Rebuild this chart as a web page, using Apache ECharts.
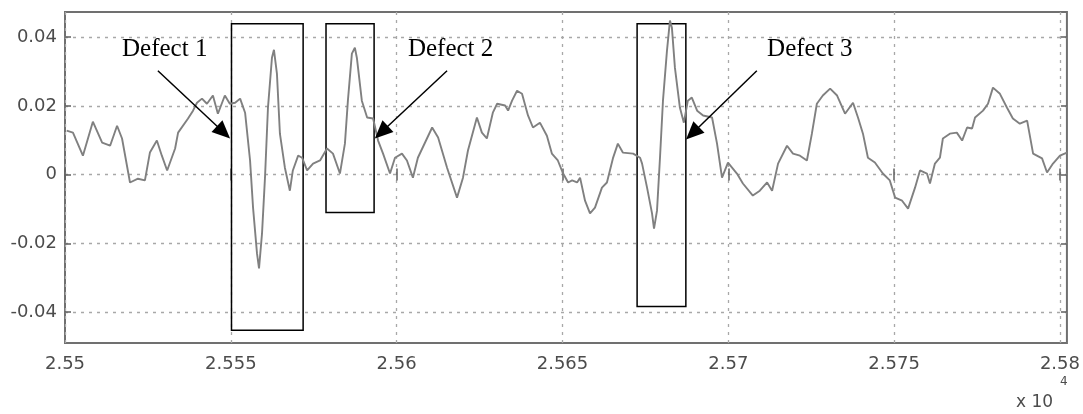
<!DOCTYPE html>
<html>
<head>
<meta charset="utf-8">
<script src="https://cdn.jsdelivr.net/npm/echarts@6/dist/echarts.min.js"></script>
<style>
  html, body { margin: 0; padding: 0; background: #fff; }
  #chart { width: 1083px; height: 414px; }
</style>
</head>
<body>
<div id="chart"></div>
<script>
// Sample position (in units of 1e-4 of the axis label value) and signal amplitude
const sampleX = [
  25500.5, 25502.4, 25505.4, 25508.4, 25511.2, 25513.6, 25515.7, 25517.2, 25519.6, 25522.0,
  25524.1, 25525.6, 25527.7, 25529.2, 25530.8, 25533.2, 25534.1, 25537.1, 25538.6, 25539.8,
  25541.3, 25542.8, 25544.6, 25546.1, 25548.2, 25549.7, 25551.3, 25552.8, 25554.3, 25555.8,
  25556.7, 25557.9, 25558.5, 25559.4, 25560.3, 25561.2, 25562.4, 25563.0, 25563.9, 25564.8,
  25566.3, 25567.8, 25568.7, 25570.3, 25571.5, 25573.0, 25574.8, 25576.9, 25579.0, 25580.8,
  25582.9, 25584.4, 25585.3, 25586.5, 25587.4, 25588.0, 25589.5, 25591.1, 25592.9, 25594.4,
  25595.9, 25598.0, 25599.5, 25601.6, 25603.1, 25604.9, 25606.4, 25610.7, 25612.5, 25615.2,
  25618.2, 25620.0, 25621.5, 25624.2, 25625.7, 25627.2, 25629.0, 25630.3, 25632.7, 25633.6,
  25634.8, 25636.3, 25637.8, 25639.6, 25641.1, 25643.2, 25645.3, 25646.8, 25648.6, 25650.2,
  25651.7, 25652.9, 25654.4, 25655.3, 25656.8, 25658.3, 25659.8, 25661.9, 25663.4, 25665.2,
  25666.7, 25668.2, 25671.3, 25673.4, 25674.0, 25675.5, 25677.0, 25677.6, 25678.5, 25679.4,
  25680.3, 25681.5, 25682.4, 25683.0, 25683.9, 25685.4, 25686.6, 25687.8, 25689.0, 25690.6,
  25692.4, 25695.1, 25696.6, 25698.1, 25699.9, 25702.6, 25704.4, 25707.4, 25709.5, 25711.7,
  25713.2, 25715.0, 25717.7, 25719.5, 25721.6, 25723.7, 25725.2, 25726.7, 25728.5, 25730.7,
  25732.8, 25735.2, 25737.6, 25739.1, 25740.6, 25742.1, 25744.2, 25746.6, 25748.7, 25750.3,
  25752.4, 25754.2, 25756.3, 25757.8, 25759.9, 25760.8, 25762.3, 25763.8, 25764.7, 25766.8,
  25768.9, 25770.5, 25772.0, 25773.5, 25774.4, 25776.8, 25778.3, 25779.8, 25781.9, 25784.0,
  25785.8, 25787.9, 25790.1, 25791.9, 25794.6, 25796.1, 25797.9, 25800.0, 25802.1
];
const sampleY = [
  0.0128, 0.0122, 0.0055, 0.0154, 0.0093, 0.0084, 0.0142, 0.0105, -0.0023, -0.0012,
  -0.0017, 0.0064, 0.0099, 0.0055, 0.0012, 0.0076, 0.0122, 0.0163, 0.0186, 0.0209,
  0.0221, 0.0206, 0.0230, 0.0177, 0.0230, 0.0206, 0.0209, 0.0221, 0.0180, 0.0041,
  -0.0096, -0.0230, -0.0273, -0.0172, -0.0009, 0.0195, 0.0340, 0.0363, 0.0294, 0.0119,
  0.0020, -0.0047, 0.0012, 0.0055, 0.0049, 0.0012, 0.0032, 0.0041, 0.0076, 0.0061,
  0.0003, 0.0090, 0.0215, 0.0352, 0.0369, 0.0340, 0.0215, 0.0166, 0.0163, 0.0099,
  0.0061, 0.0003, 0.0049, 0.0061, 0.0041, -0.0009, 0.0049, 0.0137, 0.0108, 0.0020,
  -0.0067, -0.0009, 0.0070, 0.0166, 0.0122, 0.0105, 0.0180, 0.0206, 0.0201, 0.0186,
  0.0215, 0.0244, 0.0235, 0.0172, 0.0137, 0.0151, 0.0113, 0.0061, 0.0041, 0.0003,
  -0.0023, -0.0017, -0.0023, -0.0009, -0.0076, -0.0113, -0.0096, -0.0038, -0.0023, 0.0047,
  0.0090, 0.0064, 0.0061, 0.0049, 0.0032, -0.0038, -0.0113, -0.0157, -0.0105, 0.0049,
  0.0215, 0.0360, 0.0448, 0.0427, 0.0311, 0.0195, 0.0151, 0.0215, 0.0224, 0.0186,
  0.0172, 0.0166, 0.0090, -0.0009, 0.0035, 0.0003, -0.0026, -0.0061, -0.0047, -0.0023,
  -0.0047, 0.0032, 0.0084, 0.0061, 0.0055, 0.0041, 0.0119, 0.0206, 0.0230, 0.0250,
  0.0230, 0.0177, 0.0209, 0.0166, 0.0119, 0.0049, 0.0035, 0.0003, -0.0017, -0.0067,
  -0.0076, -0.0099, -0.0038, 0.0012, 0.0003, -0.0026, 0.0032, 0.0049, 0.0105, 0.0119,
  0.0122, 0.0099, 0.0137, 0.0134, 0.0166, 0.0186, 0.0206, 0.0253, 0.0235, 0.0195,
  0.0163, 0.0148, 0.0157, 0.0061, 0.0047, 0.0006, 0.0032, 0.0055, 0.0064
];

// Axis ranges and tick values
const xRange = [25500, 25802.1];
const yRange = [-0.049, 0.0473];
const xTicks = [25500, 25550, 25600, 25650, 25700, 25750, 25800];
const yTicks = [-0.04, -0.02, 0, 0.02, 0.04];

// Defect annotations: labels, enclosing boxes [x0, x1, yLow, yHigh], arrows [from, to]
const defectNames = ['Defect 1', 'Defect 2', 'Defect 3'];
const defectLabelAt = [[25517.2, 0.0363], [25603.4, 0.0363], [25711.7, 0.0363]];
const defectBoxes = [
  [25550.2, 25571.8, -0.0453, 0.0439],
  [25578.7, 25593.2, -0.0110, 0.0439],
  [25672.5, 25687.2, -0.0384, 0.0439]
];
const defectArrows = [
  [[25528.0, 0.0302], [25547.8, 0.0123]],
  [[25615.2, 0.0302], [25595.4, 0.0123]],
  [[25708.6, 0.0302], [25689.2, 0.0120]]
];

const signal = sampleX.map((x, i) => [x, sampleY[i]]);

const labelFont = { fontFamily: 'DejaVu Sans', fontSize: 18, color: '#4c4c4c' };
const gridLine = { show: true, lineStyle: { color: '#a8a8a8', width: 1.3, type: [3, 5] } };

const fmtX = v => String(Number((v / 10000).toFixed(4)));
const fmtY = v => String(Number(v.toFixed(3)));

const chart = echarts.init(document.getElementById('chart'), null, { renderer: 'canvas' });

chart.setOption({
  animation: false,
  backgroundColor: '#ffffff',
  grid: {
    left: 65, right: 16, top: 12, bottom: 71,
    show: true, borderColor: '#707070', borderWidth: 2, backgroundColor: '#ffffff'
  },
  xAxis: [
    {
      type: 'value', min: xRange[0], max: xRange[1], position: 'bottom',
      axisLine: { show: false },
      axisTick: { show: true, inside: true, length: 6, customValues: xTicks,
                  lineStyle: { color: '#606060', width: 1.5 } },
      axisLabel: { show: true, customValues: xTicks, margin: 12, formatter: fmtX, ...labelFont },
      splitLine: gridLine
    },
    {
      type: 'value', min: xRange[0], max: xRange[1], position: 'top',
      axisLine: { show: false },
      axisTick: { show: true, inside: true, length: 6, customValues: xTicks,
                  lineStyle: { color: '#606060', width: 1.5 } },
      axisLabel: { show: false },
      splitLine: { show: false }
    }
  ],
  yAxis: [
    {
      type: 'value', min: yRange[0], max: yRange[1], position: 'left',
      axisLine: { show: false },
      axisTick: { show: true, inside: true, length: 6, customValues: yTicks,
                  lineStyle: { color: '#606060', width: 1.5 } },
      axisLabel: { show: true, customValues: yTicks, margin: 8, formatter: fmtY, ...labelFont },
      splitLine: gridLine
    },
    {
      type: 'value', min: yRange[0], max: yRange[1], position: 'right',
      axisLine: { show: false },
      axisTick: { show: true, inside: true, length: 6, customValues: yTicks,
                  lineStyle: { color: '#606060', width: 1.5 } },
      axisLabel: { show: false },
      splitLine: { show: false }
    }
  ],
  series: [
    {
      type: 'line',
      data: signal,
      xAxisIndex: 0,
      yAxisIndex: 0,
      showSymbol: false,
      smooth: false,
      lineStyle: { color: '#808080', width: 1.9 },
      markArea: {
        silent: true,
        itemStyle: { color: 'rgba(0,0,0,0)', borderColor: '#000', borderWidth: 1.5 },
        label: { show: false },
        data: defectBoxes.map(b => [{ coord: [b[0], b[3]] }, { coord: [b[1], b[2]] }])
      },
      markLine: {
        silent: true,
        symbol: ['none', 'triangle'],
        symbolSize: [16, 18],
        lineStyle: { color: '#000', width: 1.5, type: 'solid' },
        label: { show: false },
        data: defectArrows.map(a => [{ coord: a[0] }, { coord: a[1] }])
      },
      markPoint: {
        silent: true,
        symbol: 'circle',
        symbolSize: 0,
        itemStyle: { color: 'rgba(0,0,0,0)' },
        label: {
          show: true, position: [0, 0], align: 'left', verticalAlign: 'middle',
          fontFamily: 'Liberation Serif', fontSize: 25, color: '#000',
          formatter: p => p.name
        },
        data: defectNames.map((n, i) => ({ name: n, coord: defectLabelAt[i] }))
      }
    }
  ],
  graphic: [
    { type: 'text', left: 1016, top: 394,
      style: { text: 'x 10', fontFamily: 'DejaVu Sans', fontSize: 17, fill: '#4c4c4c' } },
    { type: 'text', left: 1060, top: 376,
      style: { text: '4', fontFamily: 'DejaVu Sans', fontSize: 12, fill: '#4c4c4c' } }
  ]
});
</script>
</body>
</html>
